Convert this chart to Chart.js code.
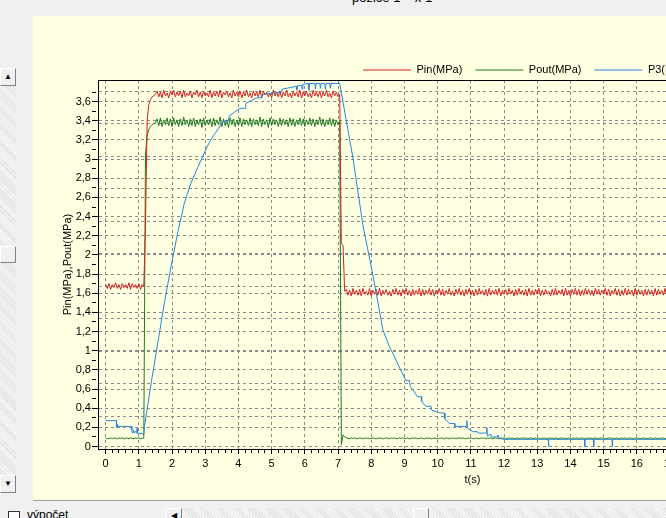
<!DOCTYPE html>
<html>
<head>
<meta charset="utf-8">
<title>Pin / Pout / P3</title>
<script src="https://cdn.jsdelivr.net/npm/chart.js@4.4.1/dist/chart.umd.min.js"></script>
<style>
  html, body { margin: 0; padding: 0; }
  body { width: 666px; height: 518px; overflow: hidden; position: relative; background: #f0f0f0;
         font-family: "Liberation Sans", Arial, sans-serif; color: #000; }
  #caption { position: absolute; left: 352px; top: -10px; font-size: 13px; white-space: nowrap; }
  .track { position: absolute; background: repeating-linear-gradient(45deg, #e2e2e2 0 1px, #f8f8f8 1px 2px); }
  .btn { position: absolute; box-sizing: border-box; background: #f0f0f0; border: 1px solid;
         border-color: #ffffff #808080 #808080 #ffffff; font-size: 8px; text-align: center; }
  #panel { position: absolute; left: 33px; top: 16px; width: 633px; height: 484px; background: #ffffe1;
           border-bottom: 1px solid #a0a0a0; overflow: hidden; }
  #chart { position: absolute; left: 0; top: 0; }
  #check { position: absolute; left: 8px; top: 511px; width: 12px; height: 12px; box-sizing: border-box;
           border: 1px solid #333; background: #fff; }
  #checkText { position: absolute; left: 27px; top: 508px; font-size: 12px; white-space: nowrap; }
</style>
</head>
<body>
<div id="caption">pozice 1 – x 1</div>

<div class="track" style="left:0;top:68px;width:16px;height:425px"></div>
<div class="btn" style="left:0;top:68px;width:16px;height:18px;line-height:16px">&#9650;</div>
<div class="btn" style="left:0;top:246px;width:16px;height:17px"></div>
<div class="btn" style="left:0;top:475px;width:16px;height:18px;line-height:16px">&#9660;</div>

<div id="panel"><canvas id="chart" width="830" height="484"></canvas></div>

<div id="check"></div>
<div id="checkText">výpočet</div>
<div class="track" style="left:165px;top:508px;width:501px;height:16px"></div>
<div class="btn" style="left:165px;top:508px;width:17px;height:16px;line-height:14px">&#9664;</div>
<div class="btn" style="left:413px;top:508px;width:16px;height:16px"></div>

<script>
// Pin and Pout are sampled every 0.05 s, starting at t = 0
const T_STEP = 0.05;

const PIN = [
  // 0 - 1.15 s
  1.69,1.65,1.70,1.64,1.69,1.66,1.71,1.65,1.69,1.64,1.70,1.66,
  1.69,1.65,1.71,1.64,1.70,1.66,1.69,1.65,1.70,1.64,1.69,1.67,
  // rise
  2.30,3.40,3.57,3.62,3.65,3.66,3.68,
  // 1.55 - 7.0 s
  3.71,3.65,3.70,3.64,3.72,3.66,3.69,3.64,3.71,3.67,
  3.72,3.65,3.70,3.66,3.71,3.64,3.72,3.65,3.69,3.66,
  3.71,3.64,3.70,3.67,3.72,3.65,3.70,3.64,3.71,3.66,
  3.69,3.65,3.72,3.64,3.70,3.66,3.71,3.65,3.72,3.64,
  3.70,3.67,3.71,3.65,3.69,3.64,3.72,3.66,3.70,3.65,
  3.71,3.64,3.70,3.66,3.72,3.65,3.69,3.64,3.71,3.66,
  3.70,3.65,3.72,3.64,3.71,3.67,3.70,3.65,3.69,3.64,
  3.72,3.66,3.70,3.65,3.71,3.64,3.70,3.66,3.72,3.65,
  3.69,3.64,3.71,3.66,3.70,3.65,3.72,3.64,3.70,3.66,
  3.71,3.65,3.69,3.64,3.72,3.66,3.70,3.65,3.71,3.64,
  3.70,3.66,3.72,3.65,3.69,3.64,3.71,3.66,3.70,3.65,
  // fall
  3.68,2.12,2.10,1.62,
  // 7.25 - 17.0 s
  1.64,1.58,1.63,1.57,1.65,1.59,1.63,1.58,1.64,1.57,1.65,1.59,1.62,1.58,
  1.65,1.57,1.63,1.59,1.64,1.58,1.65,1.57,1.63,1.59,1.64,1.58,1.62,1.57,
  1.64,1.59,1.65,1.58,1.63,1.57,1.64,1.59,1.65,1.58,1.63,1.57,1.64,1.58,
  1.63,1.59,1.65,1.57,1.64,1.58,1.63,1.59,1.65,1.58,1.64,1.57,1.63,1.59,
  1.65,1.58,1.64,1.57,1.63,1.59,1.65,1.58,1.62,1.57,1.64,1.59,1.65,1.58,
  1.63,1.57,1.64,1.59,1.65,1.58,1.63,1.57,1.64,1.58,1.65,1.59,1.63,1.58,
  1.64,1.57,1.65,1.58,1.63,1.59,1.64,1.58,1.65,1.57,1.63,1.59,1.64,1.58,
  1.65,1.59,1.63,1.57,1.64,1.58,1.65,1.59,1.63,1.58,1.64,1.57,1.65,1.58,
  1.63,1.58,1.64,1.59,1.65,1.57,1.63,1.58,1.64,1.59,1.62,1.57,1.64,1.58,
  1.65,1.58,1.63,1.59,1.64,1.57,1.65,1.58,1.63,1.57,1.64,1.59,1.65,1.58,
  1.64,1.57,1.63,1.58,1.65,1.59,1.64,1.58,1.63,1.57,1.65,1.59,1.64,1.58,
  1.63,1.59,1.65,1.58,1.64,1.57,1.63,1.59,1.65,1.58,1.64,1.57,1.63,1.58,
  1.65,1.58,1.64,1.59,1.63,1.57,1.65,1.58,1.64,1.59,1.63,1.57,1.64,1.58,
  1.64,1.59,1.63,1.57,1.65,1.58,1.64,1.59,1.63,1.58,1.65,1.57,1.64,1.59
];

const POUT = [
  // 0 - 1.15 s
  0.09,0.08,0.085,0.09,0.08,0.09,0.085,0.08,0.09,0.085,0.09,0.08,
  0.085,0.09,0.08,0.09,0.085,0.08,0.09,0.085,0.09,0.08,0.085,0.09,
  // rise
  3.05,3.24,3.31,3.34,3.36,3.37,3.38,
  // 1.55 - 7.0 s
  3.42,3.35,3.43,3.34,3.41,3.36,3.43,3.35,3.42,3.34,
  3.43,3.36,3.41,3.34,3.42,3.35,3.44,3.36,3.41,3.34,
  3.42,3.35,3.43,3.34,3.41,3.36,3.42,3.33,3.43,3.35,
  3.41,3.36,3.42,3.34,3.43,3.35,3.41,3.36,3.44,3.34,
  3.42,3.35,3.41,3.33,3.43,3.36,3.42,3.34,3.41,3.35,
  3.43,3.34,3.42,3.36,3.41,3.35,3.43,3.34,3.42,3.36,
  3.41,3.35,3.44,3.34,3.42,3.36,3.41,3.33,3.43,3.35,
  3.42,3.36,3.41,3.34,3.43,3.35,3.42,3.36,3.41,3.34,
  3.43,3.35,3.42,3.34,3.41,3.36,3.43,3.35,3.42,3.34,
  3.41,3.36,3.43,3.35,3.42,3.34,3.41,3.36,3.44,3.35,
  3.42,3.34,3.41,3.36,3.43,3.35,3.42,3.34,3.41,3.36,
  // fall
  3.40,0.02,0.12,0.10,
  // 7.25 - 17.0 s
  0.09,0.085,0.08,0.09,0.085,0.09,0.08,0.085,0.09,0.085,0.08,0.09,0.085,0.09,
  0.08,0.085,0.09,0.085,0.08,0.09,0.085,0.09,0.08,0.085,0.09,0.085,0.08,0.09,
  0.085,0.09,0.08,0.085,0.09,0.085,0.09,0.08,0.085,0.09,0.08,0.085,0.09,0.085,
  0.09,0.08,0.085,0.09,0.085,0.08,0.09,0.085,0.09,0.08,0.085,0.09,0.085,0.08,
  0.085,0.09,0.085,0.08,0.09,0.085,0.08,0.09,0.085,0.09,0.08,0.085,0.09,0.085,
  0.09,0.085,0.08,0.09,0.085,0.09,0.085,0.08,0.09,0.085,0.08,0.09,0.085,0.09,
  0.08,0.09,0.085,0.09,0.08,0.085,0.09,0.085,0.08,0.09,0.085,0.09,0.08,0.085,
  0.09,0.085,0.09,0.08,0.085,0.09,0.08,0.085,0.09,0.085,0.09,0.08,0.085,0.09,
  0.085,0.08,0.09,0.085,0.09,0.08,0.085,0.09,0.085,0.08,0.09,0.085,0.09,0.08,
  0.09,0.085,0.08,0.09,0.085,0.09,0.08,0.085,0.09,0.085,0.08,0.09,0.085,0.09,
  0.08,0.085,0.09,0.085,0.08,0.09,0.085,0.09,0.08,0.085,0.09,0.085,0.08,0.09,
  0.085,0.09,0.08,0.085,0.09,0.085,0.09,0.08,0.085,0.09,0.08,0.085,0.09,0.085,
  0.09,0.08,0.085,0.09,0.085,0.08,0.09,0.085,0.09,0.08,0.085,0.09,0.085,0.08,
  0.085,0.09,0.085,0.08,0.09,0.085,0.08,0.09,0.085,0.09,0.08,0.085,0.09,0.085
];

// P3: [t, value]
const P3 = [
  [0,0.27],[0.32,0.27],[0.33,0.20],[0.35,0.23],[0.36,0.21],[0.78,0.21],[0.79,0.17],[0.81,0.14],
  [0.84,0.17],[0.86,0.14],[0.90,0.16],[0.93,0.14],[0.95,0.19],[0.96,0.14],[1.15,0.13],[1.17,0.21],
  [1.37,0.66],[1.57,1.08],[1.77,1.50],[1.97,1.88],[2.17,2.23],[2.37,2.54],[2.57,2.75],[2.77,2.91],
  [3.02,3.10],[3.13,3.18],[3.30,3.27],[3.53,3.39],[3.70,3.40],[3.72,3.45],[4.04,3.53],[4.20,3.53],
  [4.22,3.58],[4.54,3.64],[4.70,3.64],[4.72,3.67],[5.04,3.69],[5.30,3.70],[5.32,3.73],[5.60,3.75],
  [5.74,3.76],[5.76,3.72],[5.78,3.77],[5.90,3.77],[5.92,3.73],[5.94,3.78],[6.10,3.79],[6.12,3.72],
  [6.14,3.79],[6.30,3.79],[6.32,3.73],[6.34,3.79],[6.45,3.79],[6.47,3.74],[6.49,3.79],[6.60,3.79],
  [6.62,3.73],[6.64,3.79],[6.75,3.79],[6.77,3.74],[6.79,3.79],[7.05,3.79],[7.08,3.73],[7.45,3.01],
  [7.75,2.31],[8.05,1.79],[8.35,1.22],[8.55,1.04],[8.70,0.94],[8.80,0.86],[9.04,0.69],[9.15,0.69],
  [9.17,0.63],[9.30,0.57],[9.39,0.52],[9.50,0.52],[9.52,0.47],[9.64,0.42],[9.80,0.42],[9.82,0.38],
  [10.06,0.35],[10.20,0.35],[10.22,0.29],[10.36,0.24],[10.50,0.24],[10.52,0.21],[10.86,0.21],
  [10.88,0.27],[10.90,0.19],[11.06,0.155],[11.20,0.155],[11.22,0.14],[11.46,0.14],[11.48,0.20],
  [11.50,0.11],[11.60,0.13],[11.62,0.10],[11.80,0.10],[11.82,0.12],[11.85,0.085],[12.00,0.075],
  [13.33,0.075],[13.34,0.0],[13.35,0.075],[14.42,0.075],[14.43,0.0],[14.44,0.075],[14.69,0.075],
  [14.70,0.0],[14.71,0.075],[15.25,0.075],[15.26,0.0],[15.27,0.075],[17.00,0.075]
];

const SERIES = ['Pin(MPa)', 'Pout(MPa)', 'P3(MPa)'];
const COLORS = ['#d42020', '#1f7a1f', '#2884dc'];

const X_LABELS = [0,1,2,3,4,5,6,7,8,9,10,11,12,13,14,15,16,17,18,19,20,21,22];
const Y_LABELS = [0,0.2,0.4,0.6,0.8,1,1.2,1.4,1.6,1.8,2,2.2,2.4,2.6,2.8,3,3.2,3.4,3.6];
const P3_GRID = [1,2,3,4,5,6,7,8,9,10,11];

const X_MIN = -0.2, X_MAX = 22.3;
const Y_MIN = -0.026, Y_MAX = 3.826;
const GRID = '#8a8a8a';

const sampled = vals => vals.map((v, i) => ({ x: Math.round(i * T_STEP * 100) / 100, y: v }));

// major ticks carry a label and a grid line, minor ones only a short mark
const xTicks = X_LABELS.flatMap(k => [0, 0.2, 0.4, 0.6, 0.8].map(d => Math.round((k + d) * 10) / 10))
  .filter(v => v <= X_MAX);
const yTicks = Y_LABELS.flatMap(v => [v, Math.round((v + 0.1) * 10) / 10]);

const isX = v => X_LABELS.includes(v);
const isY = v => Y_LABELS.includes(v);

function grid(isMajor, len, minorLen) {
  const major = c => c.tick && isMajor(c.tick.value);
  return {
    color: c => major(c) ? GRID : 'rgba(0,0,0,0)',
    tickColor: '#000',
    tickLength: len,
    tickBorderDash: c => major(c) ? [] : [minorLen, 30]
  };
}

const legendSpot = {
  id: 'legendSpot',
  afterLayout(chart, args, opts) {
    const lg = chart.legend;
    const pad = lg.options.labels.padding;
    lg.left = opts.x - pad; lg.right = lg.left + lg.width;
    lg.top = opts.y - pad; lg.bottom = lg.top + lg.height;
  }
};

const topFrame = {
  id: 'topFrame',
  afterDraw(chart) {
    const a = chart.chartArea, ctx = chart.ctx;
    ctx.save();
    ctx.strokeStyle = '#000';
    ctx.lineWidth = 1;
    ctx.beginPath();
    ctx.moveTo(a.left, Math.round(a.top) + 0.5);
    ctx.lineTo(a.right, Math.round(a.top) + 0.5);
    ctx.stroke();
    ctx.restore();
  }
};

Chart.defaults.font.family = '"Liberation Sans", Arial, sans-serif';
Chart.defaults.font.size = 11;
Chart.defaults.color = '#000';

const line = { borderWidth: 1, pointRadius: 0, tension: 0, fill: false };

new Chart(document.getElementById('chart'), {
  type: 'line',
  data: {
    datasets: [
      Object.assign({ label: SERIES[0], data: sampled(PIN), borderColor: COLORS[0], backgroundColor: COLORS[0], order: 1 }, line),
      Object.assign({ label: SERIES[1], data: sampled(POUT), borderColor: COLORS[1], backgroundColor: COLORS[1], order: 2 }, line),
      Object.assign({ label: SERIES[2], data: P3.map(([x, y]) => ({ x, y })), borderColor: COLORS[2], backgroundColor: COLORS[2], order: 0 }, line)
    ]
  },
  options: {
    responsive: false,
    devicePixelRatio: 1,
    animation: false,
    events: [],
    layout: { padding: { left: 28.5, top: 30, right: 17, bottom: 13.6 } },
    plugins: {
      tooltip: { enabled: false },
      legendSpot: { x: 330, y: 48.5 },
      legend: {
        position: 'top',
        align: 'start',
        labels: {
          usePointStyle: true,
          pointStyle: 'line',
          pointStyleWidth: 48,
          padding: 13,
          color: '#000',
          sort: (a, b) => a.datasetIndex - b.datasetIndex
        }
      }
    },
    scales: {
      x: {
        type: 'linear',
        min: X_MIN, max: X_MAX,
        afterBuildTicks: s => { s.ticks = xTicks.map(value => ({ value })); },
        ticks: { autoSkip: false, maxRotation: 0, padding: 3, callback: v => isX(v) ? String(v) : '' },
        grid: grid(isX, 5, 3),
        border: { color: '#000', dash: [3, 3] },
        title: { display: true, text: 't(s)', padding: { top: 0, bottom: 0 } }
      },
      y: {
        type: 'linear',
        min: Y_MIN, max: Y_MAX,
        afterBuildTicks: s => { s.ticks = yTicks.map(value => ({ value })); },
        ticks: { autoSkip: false, padding: 1, callback: v => isY(v) ? String(v).replace('.', ',') : '' },
        grid: grid(isY, 7, 4),
        border: { color: '#000', dash: [3, 3] },
        title: { display: true, text: 'Pin(MPa),Pout(MPa)', padding: { top: 0, bottom: 0 } }
      },
      p3: {
        type: 'linear',
        position: 'right',
        min: 0, max: 11.35,
        afterBuildTicks: s => { s.ticks = P3_GRID.map(value => ({ value })); },
        ticks: { display: false },
        grid: { color: GRID, drawTicks: false },
        border: { display: false, dash: [3, 3] }
      }
    }
  },
  plugins: [legendSpot, topFrame]
});
</script>
</body>
</html>
